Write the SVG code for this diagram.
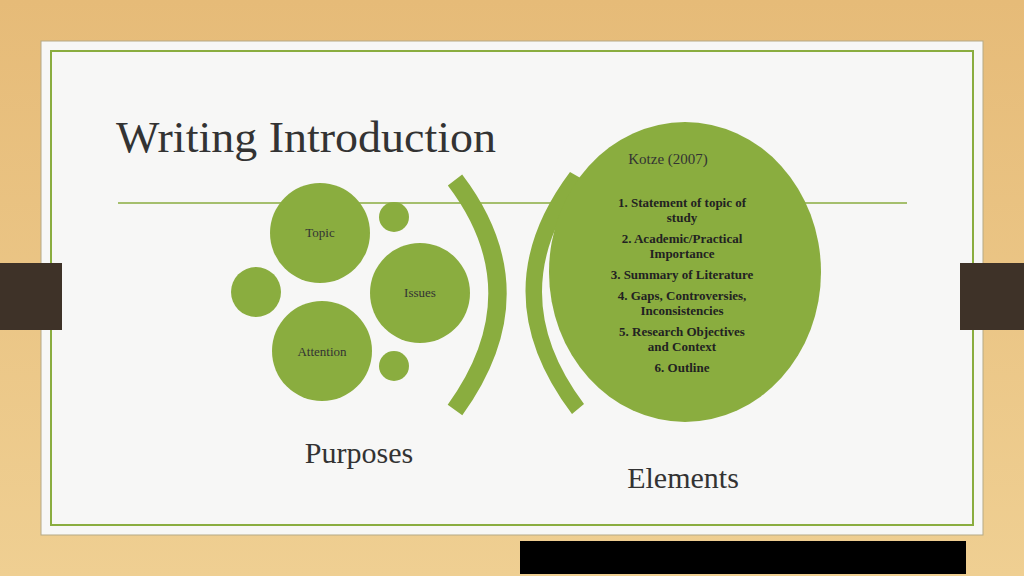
<svg xmlns="http://www.w3.org/2000/svg" width="1024" height="576" viewBox="0 0 1024 576">
<style>
.g{fill:#8aad3f}
.t{font-family:"Liberation Serif",serif;fill:#333}
.b{font-family:"Liberation Serif",serif;font-weight:bold;font-size:13px;fill:#222;text-anchor:middle}
</style>
<defs><linearGradient id="wood" x1="0" y1="0" x2="0" y2="1"><stop offset="0" stop-color="#e6bb78"/><stop offset="1" stop-color="#efcf92"/></linearGradient></defs>
<rect width="1024" height="576" fill="url(#wood)"/>
<rect x="41" y="41" width="942" height="494" fill="#f7f7f6" stroke="#b5a985" stroke-width="1"/>
<rect x="51" y="51" width="922" height="474" fill="none" stroke="#8aad3f" stroke-width="2"/>
<rect x="0" y="263" width="62" height="67" fill="#3e3228"/>
<rect x="960" y="263" width="64" height="67" fill="#3e3228"/>
<line x1="118" y1="203" x2="907" y2="203" stroke="#8aad3f" stroke-width="1.5"/>
<text class="t" x="116" y="152" font-size="44" textLength="380" lengthAdjust="spacingAndGlyphs">Writing Introduction</text>
<g id="topic"><circle class="g" cx="320" cy="233" r="50"/><text class="t" x="320" y="237" font-size="13" text-anchor="middle">Topic</text></g>
<g id="issues"><circle class="g" cx="420" cy="293" r="50"/><text class="t" x="420" y="297" font-size="13" text-anchor="middle">Issues</text></g>
<g id="attention"><circle class="g" cx="322" cy="351" r="50"/><text class="t" x="322" y="356" font-size="13" text-anchor="middle">Attention</text></g>
<g id="small1"><circle class="g" cx="394" cy="217" r="15"/></g>
<g id="small2"><circle class="g" cx="256" cy="292" r="25"/></g>
<g id="small3"><circle class="g" cx="394" cy="366" r="15"/></g>
<g id="arc"><path d="M455 180 Q540 292 455 410" fill="none" stroke="#8aad3f" stroke-width="18"/></g>
<g id="crescent"><path class="g" d="M570 172 L584 180 Q500 292 584 404 L572 414 Q480 292 570 172 Z"/></g>
<g id="elements">
<ellipse class="g" cx="685" cy="272" rx="136" ry="150"/>
<text class="t" x="668" y="164" font-size="15" text-anchor="middle">Kotze (2007)</text>
<text class="b" x="682" y="207">1. Statement of topic of</text>
<text class="b" x="682" y="222">study</text>
<text class="b" x="682" y="243">2. Academic/Practical</text>
<text class="b" x="682" y="258">Importance</text>
<text class="b" x="682" y="279">3. Summary of Literature</text>
<text class="b" x="682" y="300">4. Gaps, Controversies,</text>
<text class="b" x="682" y="315">Inconsistencies</text>
<text class="b" x="682" y="336">5. Research Objectives</text>
<text class="b" x="682" y="351">and Context</text>
<text class="b" x="682" y="372">6.  Outline</text>
</g>
<text class="t" x="359" y="463" font-size="30" text-anchor="middle">Purposes</text>
<text class="t" x="683" y="488" font-size="30" text-anchor="middle">Elements</text>
<rect x="520" y="541" width="446" height="33" fill="#000"/>
</svg>
